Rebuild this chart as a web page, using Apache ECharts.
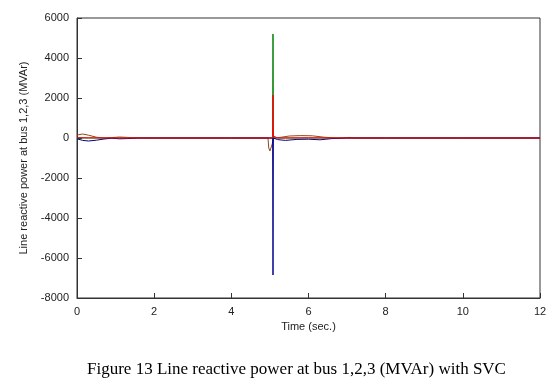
<!DOCTYPE html>
<html lang="en">
<head>
    <meta charset="utf-8">
    <title>Line reactive power</title>
    <script src="https://cdn.jsdelivr.net/npm/echarts@6/dist/echarts.min.js"></script>
    <style>
        body { margin: 0; background: #fff; }
        #main { width: 556px; height: 378px; }
    </style>
</head>
<body>
    <div id="main"></div>
    <script type="text/javascript">

    // time (s) and reactive power (MVAr) for each trace
    var greenT = [0, 1, 2, 4, 5.0, 5.07, 5.08, 5.09, 5.2, 6, 8, 10, 12];
    var greenV = [0, 0, 0, 0, 0, 0, 5200, 0, 0, 0, 0, 0, 0];

    var redT = [0, 0.3, 1, 2, 4, 5.0, 5.07, 5.08, 5.085, 5.09, 5.1, 5.2, 6, 7, 8, 10, 12];
    var redV = [20, 10, 0, 0, 0, 0, 0, 2150, 700, 100, 0, 0, 10, 0, 0, 0, 0];

    var blueT = [0, 0.15, 0.3, 0.5, 0.7, 0.9, 1.1, 1.3, 1.6, 2, 4, 5.0, 5.07, 5.08, 5.09, 5.2, 5.4, 5.7, 6.0, 6.3, 6.6, 7, 8, 10, 12];
    var blueV = [-40, -120, -150, -110, -50, -10, -40, -30, 0, 0, 0, 0, 0, -6850, 0, -80, -120, -70, -60, -90, -30, 0, 0, 0, 0];

    var brownT = [0, 0.15, 0.3, 0.5, 0.7, 0.9, 1.1, 1.3, 1.6, 2, 4, 4.95, 4.97, 5.0, 5.03, 5.06, 5.1, 5.3, 5.5, 5.8, 6.1, 6.4, 6.7, 6.9, 7.05, 7.2, 8, 10, 12];
    var brownV = [150, 200, 140, 40, 0, 20, 50, 30, 0, 0, 0, 0, -500, -650, -600, -300, 0, 40, 100, 120, 110, 40, 0, 0, 30, 0, 0, 0, 0];

    var xTicks = [0, 2, 4, 6, 8, 10, 12];
    var yTicks = [-8000, -6000, -4000, -2000, 0, 2000, 4000, 6000];

    function pairs(t, v) {
        var out = [];
        for (var i = 0; i < t.length; i++) out.push([t[i], v[i]]);
        return out;
    }

    var axisColor = '#333';
    var labelFont = { color: '#222', fontSize: 11, fontFamily: 'Liberation Sans, Arial, sans-serif' };

    var myChart = echarts.init(document.getElementById('main'));

    myChart.setOption({
        animation: false,
        grid: { left: 77, right: 16, top: 18, bottom: 80 },
        xAxis: {
            type: 'value',
            min: xTicks[0], max: xTicks[xTicks.length - 1], interval: 2,
            name: 'Time (sec.)',
            nameLocation: 'middle',
            nameGap: 14,
            nameTextStyle: labelFont,
            axisLine: { show: true, onZero: false, lineStyle: { color: axisColor } },
            axisTick: { show: true, inside: true, length: 5, lineStyle: { color: axisColor } },
            axisLabel: labelFont,
            splitLine: { show: false }
        },
        yAxis: {
            type: 'value',
            min: yTicks[0], max: yTicks[yTicks.length - 1], interval: 2000,
            name: 'Line reactive power at bus 1,2,3 (MVAr)',
            nameLocation: 'middle',
            nameGap: 41,
            nameTextStyle: labelFont,
            axisLine: { show: true, lineStyle: { color: axisColor } },
            axisTick: { show: true, inside: true, length: 5, lineStyle: { color: axisColor } },
            axisLabel: Object.assign({ formatter: function (v) { return String(v); } }, labelFont),
            splitLine: { show: false }
        },
        graphic: [{
            type: 'rect',
            shape: { x: 77, y: 18, width: 463, height: 280 },
            style: { fill: 'none', stroke: axisColor, lineWidth: 1 },
            silent: true
        }, {
            type: 'text',
            left: 87,
            top: 361,
            style: {
                text: 'Figure 13 Line reactive power at bus 1,2,3 (MVAr) with SVC',
                font: '17px "Liberation Serif", "Times New Roman", serif',
                fill: '#000'
            }
        }],
        series: [{
            name: 'green', type: 'line', showSymbol: false,
            lineStyle: { width: 1, color: '#007f00' },
            data: pairs(greenT, greenV)
        }, {
            name: 'brown', type: 'line', showSymbol: false,
            lineStyle: { width: 1, color: '#8b4a1a' },
            data: pairs(brownT, brownV)
        }, {
            name: 'blue', type: 'line', showSymbol: false,
            lineStyle: { width: 1, color: '#00008b' },
            data: pairs(blueT, blueV)
        }, {
            name: 'red', type: 'line', showSymbol: false,
            lineStyle: { width: 1, color: '#ff0000' },
            data: pairs(redT, redV)
        }]
    });

    </script>
</body>
</html>
